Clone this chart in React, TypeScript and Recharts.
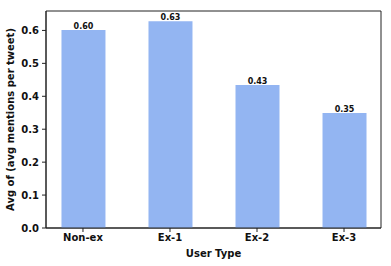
import React from 'react';
import { BarChart, Bar, XAxis, YAxis, LabelList, ReferenceArea } from 'recharts';

const categories = ['Non-ex', 'Ex-1', 'Ex-2', 'Ex-3'];
const avgMentions = [0.601, 0.628, 0.434, 0.349];
const yTicks = [0, 0.1, 0.2, 0.3, 0.4, 0.5, 0.6];

const data = categories.map((name, i) => ({ idx: i, name, value: avgMentions[i] }));

const X_DOMAIN: [number, number] = [-0.425, 3.425];
const Y_DOMAIN: [number, number] = [0, 0.659];

const FONT = '"DejaVu Sans", sans-serif';
const INK = '#111';
const tickStyle = { fill: INK, fontSize: 10, fontWeight: 700, fontFamily: FONT };

export default function App() {
  return (
    <div style={{ position: 'absolute', left: 0, top: 0, background: '#fff' }}>
      <BarChart
        width={391}
        height={266}
        data={data}
        margin={{ top: 11, right: 10, left: 0, bottom: 0 }}
      >
        <XAxis
          dataKey="idx"
          type="number"
          domain={X_DOMAIN}
          ticks={[0, 1, 2, 3]}
          allowDataOverflow
          tickFormatter={(i: number) => categories[i]}
          height={38}
          tickSize={4}
          tickMargin={2}
          tick={tickStyle}
          tickLine={{ stroke: '#222' }}
          axisLine={{ stroke: '#222', strokeWidth: 1 }}
          label={{
            content: ({ viewBox }: any) => (
              <text
                x={viewBox.x + viewBox.width / 2}
                y={viewBox.y + 29}
                textAnchor="middle"
                fill={INK}
                fontSize={10}
                fontWeight={700}
                fontFamily={FONT}
              >
                User Type
              </text>
            ),
          }}
        />
        <YAxis
          width={46}
          domain={Y_DOMAIN}
          ticks={yTicks}
          allowDataOverflow
          tickFormatter={(v: number) => v.toFixed(1)}
          tickSize={4}
          tickMargin={3}
          tick={tickStyle}
          tickLine={{ stroke: '#222' }}
          axisLine={{ stroke: '#222', strokeWidth: 1 }}
          label={{
            content: ({ viewBox }: any) => {
              const cx = 14;
              const cy = viewBox.y + viewBox.height / 2;
              return (
                <text
                  x={cx}
                  y={cy}
                  transform={`rotate(-90, ${cx}, ${cy})`}
                  textAnchor="middle"
                  fill={INK}
                  fontSize={10}
                  fontWeight={700}
                  fontFamily={FONT}
                >
                  Avg of (avg mentions per tweet)
                </text>
              );
            },
          }}
        />
        <Bar dataKey="value" fill="#93b5f2" barSize={44} isAnimationActive={false}>
          <LabelList
            dataKey="value"
            position="top"
            offset={1}
            formatter={(v: any) => Number(v).toFixed(2)}
            style={{ fill: INK, fontSize: 8, fontWeight: 700, fontFamily: FONT }}
          />
        </Bar>
        <ReferenceArea
          x1={X_DOMAIN[0]}
          x2={X_DOMAIN[1]}
          y1={Y_DOMAIN[0]}
          y2={Y_DOMAIN[1]}
          fill="none"
          fillOpacity={0}
          stroke="#222"
          strokeWidth={1}
          ifOverflow="visible"
        />
      </BarChart>
    </div>
  );
}
